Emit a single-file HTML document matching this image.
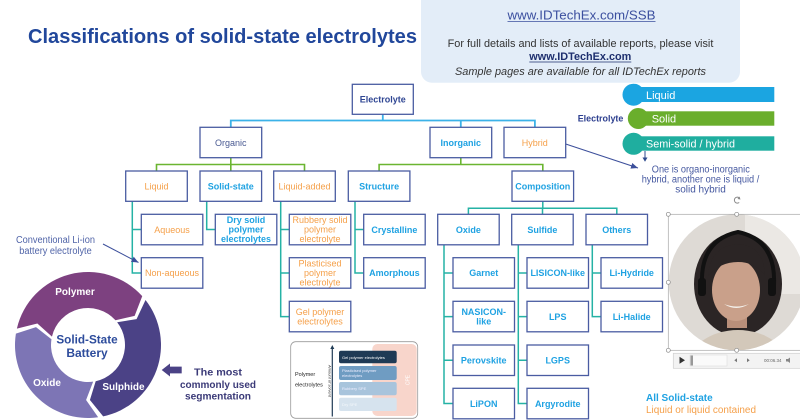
<!DOCTYPE html>
<html><head><meta charset="utf-8">
<style>
html,body{margin:0;padding:0;background:#fff;}
svg{display:block;}
text{font-family:"Liberation Sans",Arial,sans-serif;}
.bx{fill:#fff;stroke:#4a5ca2;stroke-width:1.3;}
.t{font-size:9px;text-anchor:middle;}
.o{fill:#f5a04a;}
.b{fill:#1fa2e2;font-weight:bold;}
.d{fill:#2f4693;}
.lb{stroke:#3cb2e8;stroke-width:1.8;fill:none;}
.lg{stroke:#6bb531;stroke-width:1.6;fill:none;}
.lt{stroke:#25b2a5;stroke-width:1.5;fill:none;}
</style></head><body>
<svg width="800" height="420" viewBox="0 0 800 420" xmlns="http://www.w3.org/2000/svg">
<defs>
<marker id="ah" markerWidth="8" markerHeight="8" refX="7" refY="4" orient="auto" markerUnits="userSpaceOnUse">
<path d="M0,1 L7,4 L0,7 Z" fill="#3c4f9b"/>
</marker>
<clipPath id="cc"><circle cx="736.7" cy="282.3" r="68"/></clipPath>
</defs>
<rect width="800" height="420" fill="#fff"/>

<!-- Title -->
<text x="28" y="43" font-size="20" font-weight="bold" fill="#21479b" textLength="389" lengthAdjust="spacingAndGlyphs">Classifications of solid-state electrolytes</text>

<!-- Top info box -->
<rect x="421" y="-12" width="319" height="94.7" rx="11" fill="#e3edf8"/>
<text x="581.5" y="19.5" font-size="13" fill="#3b4f9f" text-anchor="middle" textLength="148" lengthAdjust="spacingAndGlyphs">www.IDTechEx.com/SSB</text>
<line x1="507.5" y1="21.5" x2="655.5" y2="21.5" stroke="#3b4f9f" stroke-width="0.8"/>
<text x="580.5" y="46.8" font-size="11" fill="#333" text-anchor="middle" textLength="265.7" lengthAdjust="spacingAndGlyphs">For full details and lists of available reports, please visit</text>
<text x="580.3" y="60.2" font-size="11" font-weight="bold" fill="#1e2f6e" text-anchor="middle" textLength="102" lengthAdjust="spacingAndGlyphs">www.IDTechEx.com</text>
<line x1="529.3" y1="62" x2="631.3" y2="62" stroke="#1e2f6e" stroke-width="0.8"/>
<text x="580.5" y="75" font-size="11" font-style="italic" fill="#333" text-anchor="middle" textLength="251" lengthAdjust="spacingAndGlyphs">Sample pages are available for all IDTechEx reports</text>

<!-- Legend -->
<text x="577.7" y="121.5" font-size="9" font-weight="bold" fill="#2d3f8f" textLength="45.7" lengthAdjust="spacingAndGlyphs">Electrolyte</text>
<rect x="640" y="87" width="134.3" height="15" fill="#1ba5e1"/>
<circle cx="633.5" cy="94.7" r="11" fill="#1ba5e1"/>
<text x="646" y="98.8" font-size="11" fill="#fff">Liquid</text>
<rect x="645" y="111.3" width="129.3" height="14.4" fill="#6aae2c"/>
<circle cx="638.3" cy="118.5" r="10.5" fill="#6aae2c"/>
<text x="651.7" y="122.6" font-size="11" fill="#fff">Solid</text>
<rect x="640" y="136.3" width="134.3" height="14.4" fill="#1fae9f"/>
<circle cx="633.5" cy="143.8" r="11" fill="#1fae9f"/>
<text x="646" y="147.7" font-size="11" fill="#fff" textLength="89" lengthAdjust="spacingAndGlyphs">Semi-solid / hybrid</text>
<line x1="645" y1="151" x2="645" y2="158" stroke="#2d4a8e" stroke-width="1"/>
<path d="M642.5,157.5 L647.5,157.5 L645,161.8 Z" fill="#2d4a8e"/>
<g font-size="10" fill="#4558a0" text-anchor="middle">
<text x="700.8" y="172.6" textLength="98" lengthAdjust="spacingAndGlyphs">One is organo-inorganic</text>
<text x="700.5" y="182.6" textLength="117.6" lengthAdjust="spacingAndGlyphs">hybrid, another one is liquid /</text>
<text x="700.5" y="192.6">solid hybrid</text>
</g>
<line x1="565.7" y1="144" x2="638" y2="168" stroke="#3c4f9b" stroke-width="1" marker-end="url(#ah)"/>

<!-- Connectors: blue -->
<path class="lb" d="M382.8,114.3 V120.5 M230.8,120.5 H534.9 M230.8,119.6 V127.3 M460.8,119.6 V127.3 M534.9,119.6 V127.3"/>
<!-- green -->
<path class="lg" d="M230.8,157.7 V164.5 M156.5,164.5 H304.5 M156.5,163.7 V171 M230.8,163.7 V171 M304.5,163.7 V171"/>
<path class="lg" d="M460.8,157.7 V164.5 M379.1,164.5 H542.8 M379.1,163.7 V171 M542.8,163.7 V171"/>
<!-- teal -->
<path class="lt" d="M542.8,201.3 V208.3 M468.4,208.3 H616.8 M468.4,207.5 V214.3 M542.5,207.5 V214.3 M616.8,207.5 V214.3"/>
<path class="lt" d="M132.3,201.3 V273 H141.3 M132.3,229.5 H141.3"/>
<path class="lt" d="M206.7,201.3 V229.5 H215.3"/>
<path class="lt" d="M280.7,201.3 V316.6 H289.3 M280.7,229.5 H289.3 M280.7,273 H289.3"/>
<path class="lt" d="M355,201.3 V273 H363.7 M355,229.5 H363.7"/>
<path class="lt" d="M444,244.8 V403.5 H453 M444,273 H453 M444,316.6 H453 M444,360.2 H453"/>
<path class="lt" d="M518.3,244.8 V403.5 H527 M518.3,273 H527 M518.3,316.6 H527 M518.3,360.2 H527"/>
<path class="lt" d="M592.3,244.8 V316.6 H601 M592.3,273 H601"/>

<!-- Boxes -->
<g>
<rect class="bx" x="352.3" y="84.3" width="61" height="30"/>
<rect class="bx" x="200" y="127.3" width="61.7" height="30.4"/>
<rect class="bx" x="430" y="127.3" width="61.7" height="30.4"/>
<rect class="bx" x="504" y="127.3" width="61.7" height="30.4"/>
<rect class="bx" x="125.7" y="171" width="61.6" height="30.3"/>
<rect class="bx" x="200" y="171" width="61.6" height="30.3"/>
<rect class="bx" x="273.7" y="171" width="61.6" height="30.3"/>
<rect class="bx" x="348.3" y="171" width="61.6" height="30.3"/>
<rect class="bx" x="512" y="171" width="61.6" height="30.3"/>

<rect class="bx" x="141.3" y="214.3" width="61.5" height="30.5"/>
<rect class="bx" x="215.3" y="214.3" width="61.5" height="30.5"/>
<rect class="bx" x="289.3" y="214.3" width="61.5" height="30.5"/>
<rect class="bx" x="363.7" y="214.3" width="61.5" height="30.5"/>
<rect class="bx" x="437.7" y="214.3" width="61.5" height="30.5"/>
<rect class="bx" x="511.7" y="214.3" width="61.5" height="30.5"/>
<rect class="bx" x="586" y="214.3" width="61.5" height="30.5"/>

<rect class="bx" x="141.3" y="257.7" width="61.5" height="30.5"/>
<rect class="bx" x="289.3" y="257.7" width="61.5" height="30.5"/>
<rect class="bx" x="363.7" y="257.7" width="61.5" height="30.5"/>
<rect class="bx" x="453" y="257.7" width="61.5" height="30.5"/>
<rect class="bx" x="527" y="257.7" width="61.5" height="30.5"/>
<rect class="bx" x="601" y="257.7" width="61.5" height="30.5"/>

<rect class="bx" x="289.3" y="301.3" width="61.5" height="30.5"/>
<rect class="bx" x="453" y="301.3" width="61.5" height="30.5"/>
<rect class="bx" x="527" y="301.3" width="61.5" height="30.5"/>
<rect class="bx" x="601" y="301.3" width="61.5" height="30.5"/>

<rect class="bx" x="453" y="345" width="61.5" height="30.5"/>
<rect class="bx" x="527" y="345" width="61.5" height="30.5"/>

<rect class="bx" x="453" y="388.3" width="61.5" height="30.5"/>
<rect class="bx" x="527" y="388.3" width="61.5" height="30.5"/>
</g>

<!-- Box texts -->
<text class="t d" x="382.8" y="102.5" font-weight="bold">Electrolyte</text>
<text class="t" x="230.8" y="145.8" fill="#4a5a92">Organic</text>
<text class="t b" x="460.8" y="145.8">Inorganic</text>
<text class="t o" x="534.8" y="145.8">Hybrid</text>
<text class="t o" x="156.5" y="189.4">Liquid</text>
<text class="t b" x="230.8" y="189.4">Solid-state</text>
<text class="t o" x="304.5" y="189.4">Liquid-added</text>
<text class="t b" x="379.1" y="189.4">Structure</text>
<text class="t b" x="542.8" y="189.4">Composition</text>

<text class="t o" x="172" y="232.8">Aqueous</text>
<text class="t b" x="246" y="223.2">Dry solid</text>
<text class="t b" x="246" y="232.7">polymer</text>
<text class="t b" x="246" y="242.2">electrolytes</text>
<text class="t o" x="320" y="223.2">Rubbery solid</text>
<text class="t o" x="320" y="232.7">polymer</text>
<text class="t o" x="320" y="242.2">electrolyte</text>
<text class="t b" x="394.4" y="232.8">Crystalline</text>
<text class="t b" x="468.4" y="232.8">Oxide</text>
<text class="t b" x="542.4" y="232.8">Sulfide</text>
<text class="t b" x="616.7" y="232.8">Others</text>

<text class="t o" x="172" y="276.2">Non-aqueous</text>
<text class="t o" x="320" y="266.6">Plasticised</text>
<text class="t o" x="320" y="276.1">polymer</text>
<text class="t o" x="320" y="285.6">electrolyte</text>
<text class="t b" x="394.4" y="276.2">Amorphous</text>
<text class="t b" x="483.7" y="276.2">Garnet</text>
<text class="t b" x="557.7" y="276.2">LISICON-like</text>
<text class="t b" x="631.7" y="276.2">Li-Hydride</text>

<text class="t o" x="320" y="315">Gel polymer</text>
<text class="t o" x="320" y="324.5">electrolytes</text>
<text class="t b" x="483.7" y="315">NASICON-</text>
<text class="t b" x="483.7" y="324.5">like</text>
<text class="t b" x="557.7" y="319.8">LPS</text>
<text class="t b" x="631.7" y="319.8">Li-Halide</text>

<text class="t b" x="483.7" y="363.5">Perovskite</text>
<text class="t b" x="557.7" y="363.5">LGPS</text>
<text class="t b" x="483.7" y="406.8">LiPON</text>
<text class="t b" x="557.7" y="406.8">Argyrodite</text>

<!-- Conventional label -->
<g font-size="10" fill="#5064a8" text-anchor="middle">
<text x="55.5" y="243" textLength="79" lengthAdjust="spacingAndGlyphs">Conventional Li-ion</text>
<text x="55.5" y="254" textLength="72.4" lengthAdjust="spacingAndGlyphs">battery electrolyte</text>
</g>
<line x1="103" y1="244" x2="138.5" y2="262.5" stroke="#3c4f9b" stroke-width="1" marker-end="url(#ah)"/>

<!-- Ring -->
<path d="M16.87,328.58 A73,73 0 0,1 142.25,296.15 L134.64,315.86 L115.49,320.24 A37,37 0 0,0 51.95,336.67 L37.37,323.51 Z" fill="#7d4180"/>
<path d="M145.52,300.05 A73,73 0 0,1 103.18,416.40 L89.92,399.97 L95.69,381.19 A37,37 0 0,0 117.16,322.22 L136.56,319.18 Z" fill="#4b4286"/>
<path d="M98.16,417.29 A73,73 0 0,1 15.90,333.58 L36.00,327.09 L51.46,339.21 A37,37 0 0,0 93.15,381.64 L86.08,399.97 Z" fill="#7d75b5"/>
<g font-weight="bold" fill="#fff" font-size="10" text-anchor="middle">
<text x="75" y="295.2">Polymer</text>
<text x="47" y="386">Oxide</text>
<text x="123.5" y="390">Sulphide</text>
</g>
<g font-weight="bold" fill="#2d4c9c" font-size="12" text-anchor="middle">
<text x="87" y="343.5" textLength="61.3" lengthAdjust="spacingAndGlyphs">Solid-State</text>
<text x="87" y="357">Battery</text>
</g>
<path d="M161.7,370 L170,363.5 L170,366.6 L181.7,366.6 L181.7,373.4 L170,373.4 L170,376.5 Z" fill="#4b4286"/>
<g font-weight="bold" fill="#3b3a78" font-size="10" text-anchor="middle">
<text x="218" y="375.6" textLength="48" lengthAdjust="spacingAndGlyphs">The most</text>
<text x="218" y="388" textLength="76" lengthAdjust="spacingAndGlyphs">commonly used</text>
<text x="218" y="399.6" textLength="66" lengthAdjust="spacingAndGlyphs">segmentation</text>
</g>

<!-- Small chart -->
<rect x="290.7" y="341.7" width="127" height="76.6" rx="5" fill="#fff" stroke="#9a9a9a" stroke-width="0.8"/>
<rect x="372.3" y="344" width="44.4" height="72" rx="5" fill="#f8d5cb"/>
<text x="0" y="0" font-size="5" fill="#fff" transform="translate(409.5,380) rotate(-90)" text-anchor="middle">CPE</text>
<rect x="339" y="350.7" width="57.7" height="12.6" rx="2" fill="#1f3a55"/>
<text x="342" y="358.8" font-size="4" fill="#fff">Gel polymer electrolytes</text>
<rect x="339" y="366" width="57.7" height="14" rx="2" fill="#6f9cc2"/>
<text x="342" y="372" font-size="4" fill="#eef">Plasticised polymer</text>
<text x="342" y="377" font-size="4" fill="#eef">electrolytes</text>
<rect x="339" y="382" width="57.7" height="13.3" rx="2" fill="#a8c4dc"/>
<text x="342" y="390" font-size="4" fill="#eef">Rubbery SPE</text>
<rect x="339" y="397.7" width="57.7" height="13.3" rx="2" fill="#d6e3ee"/>
<text x="342" y="406" font-size="4" fill="#f4f8fb">Dry SPE</text>
<line x1="332.3" y1="416.5" x2="332.3" y2="348" stroke="#1f3a55" stroke-width="1.2"/>
<path d="M330.3,349 L334.3,349 L332.3,345 Z" fill="#1f3a55"/>
<text x="0" y="0" font-size="4" fill="#333" font-style="italic" transform="translate(328.5,381) rotate(90)" text-anchor="middle">Amount of solvent</text>
<text x="295" y="376" font-size="5.5" fill="#222">Polymer</text>
<text x="295" y="386.5" font-size="5.5" fill="#222">electrolytes</text>

<!-- Video frame -->
<g clip-path="url(#cc)">
<rect x="668" y="214" width="140" height="140" fill="#dedad5"/>
<rect x="745" y="214" width="70" height="80" fill="#ebe8e4"/>
<ellipse cx="738" cy="284" rx="44" ry="52" fill="#2b2525"/>
<ellipse cx="738" cy="366" rx="50" ry="36" fill="#d3c8ba"/>
<rect x="727" y="310" width="20" height="18" fill="#b98f7a"/>
<ellipse cx="736" cy="290" rx="24" ry="31" fill="#c9a08a"/>
<path d="M708,276 Q710,246 738,244 Q764,246 765,276 Q756,262 738,262 Q720,262 708,276 Z" fill="#2b2525"/>
<path d="M724,304 Q736,312 749,304 Q737,309 724,304 Z" fill="#f3efe9"/>
<path d="M702,285 Q700,240 738,232 Q776,240 774,285" fill="none" stroke="#111" stroke-width="4"/>
<rect x="698" y="278" width="8" height="18" rx="3" fill="#111"/>
<rect x="768" y="278" width="8" height="18" rx="3" fill="#111"/>
</g>
<rect x="668.3" y="214.3" width="140" height="136" fill="none" stroke="#a8a8a8" stroke-width="0.7"/>
<g fill="#fff" stroke="#888" stroke-width="0.7">
<circle cx="668.3" cy="214.3" r="2"/>
<circle cx="736.7" cy="214.3" r="2"/>
<circle cx="668.3" cy="282.3" r="2"/>
<circle cx="668.3" cy="350.3" r="2"/>
<circle cx="736.7" cy="350.3" r="2"/>
</g>
<path d="M739.5,198 A3,3 0 1,0 739.2,202.5" fill="none" stroke="#888" stroke-width="1"/>
<path d="M739.5,196.5 L740.5,199.5 L737.5,199" fill="#888"/>
<rect x="673.3" y="353.3" width="130" height="15" fill="#f3f3f3" stroke="#cfcfcf" stroke-width="0.7"/>
<path d="M679.5,356.8 L679.5,363.8 L685,360.3 Z" fill="#333"/>
<rect x="690" y="355" width="37" height="11" fill="#fafafa" stroke="#dcdcdc" stroke-width="0.6"/>
<rect x="690.5" y="355.5" width="2.5" height="10" fill="#999"/>
<path d="M737,358.3 L737,362.3 L734.3,360.3 Z" fill="#777"/>
<path d="M747,358.3 L747,362.3 L749.7,360.3 Z" fill="#777"/>
<text x="764" y="361.8" font-size="4.5" fill="#666">00:06.34</text>
<path d="M786,359 L788,359 L790,357.5 L790,363 L788,361.5 L786,361.5 Z" fill="#888"/>

<!-- Bottom right labels -->
<text x="646" y="401" font-size="10" font-weight="bold" fill="#1fa2e2" textLength="66.7" lengthAdjust="spacingAndGlyphs">All Solid-state</text>
<text x="646" y="413" font-size="10" fill="#f5a04a" textLength="110" lengthAdjust="spacingAndGlyphs">Liquid or liquid contained</text>
</svg>
</body></html>
